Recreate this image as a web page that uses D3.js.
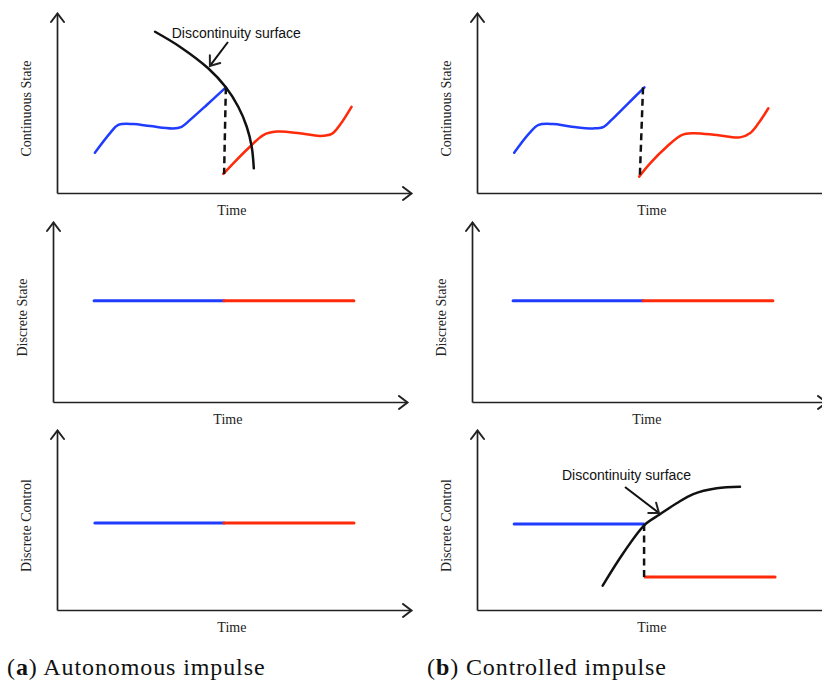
<!DOCTYPE html>
<html>
<head>
<meta charset="utf-8">
<script src="https://cdn.jsdelivr.net/npm/d3@7"></script>
<style>
  body { margin: 0; background: #fff; }
  svg { display: block; }
</style>
</head>
<body>
<div id="fig"></div>
<script>
// values in panel units: time 0..100 along x, state 0..100 along y
var contBlueA = [[10.7,22.4],[15.0,33.3],[17.3,37.8],[21.5,38.3],[26.3,37.2],[32.8,35.9],[35.2,36.8],[37.6,40.6],[42.3,48.9],[47.7,58.7]];
var contRedA  = [[47.0,10.6],[49.8,16.5],[54.5,25.7],[58.3,32.2],[62.1,34.1],[68.6,33.2],[74.3,31.7],[77.6,32.8],[79.9,37.8],[83.2,47.9]];
var jumpA     = [[47.7,58.7],[47.2,10.6]];
var surfaceA  = [[27.7,89.6],[34.7,81.3],[42.7,69.3],[47.7,58.7],[51.2,47.9],[53.6,36.8],[55.0,25.7],[55.6,13.7]];
var pointerA  = [[48.3,83.9],[43.2,70.6]];

var contBlueB = [[10.5,22.4],[14.8,33.3],[17.4,37.8],[21.5,38.3],[26.3,37.0],[33.0,35.9],[35.8,36.8],[38.0,40.6],[42.3,49.0],[47.3,58.7]];
var contRedB  = [[45.8,9.1],[48.9,16.5],[53.6,25.7],[57.8,32.2],[61.1,33.2],[67.7,32.2],[74.3,30.9],[77.1,33.2],[79.5,38.7],[82.3,47.1]];
var jumpB     = [[46.9,58.7],[46.0,9.1]];

var discStateBlue = [[11.6,56.3],[48.3,56.3]];
var discStateRed  = [[48.3,56.3],[85.0,56.3]];

var ctrlBlueA = [[10.7,48.3],[47.2,48.3]];
var ctrlRedA  = [[47.2,48.3],[83.9,48.3]];

var ctrlBlueB = [[10.5,47.8],[47.2,47.8]];
var ctrlRedB  = [[47.5,18.3],[84.2,18.3]];
var ctrlJumpB = [[47.2,47.8],[47.2,18.3]];
var surfaceB  = [[35.5,13.5],[41.3,31.5],[47.3,47.2],[51.7,53.2],[56.4,59.3],[61.1,64.4],[67.7,67.6],[74.3,68.5]];
var pointerB  = [[41.8,68.3],[51.4,53.9]];

var yLabels = ["Continuous State", "Discrete State", "Discrete Control"];
var xLabel = "Time";
var surfaceLabel = "Discontinuity surface";

var blue = "#1f3cff", red = "#ff2a0a", ink = "#111";

var svg = d3.select("#fig").append("svg")
  .attr("width", 822)
  .attr("height", 682);

var defs = svg.append("defs");
defs.append("marker")
  .attr("id", "head")
  .attr("viewBox", "-11 -8 13 16")
  .attr("refX", 0).attr("refY", 0)
  .attr("markerWidth", 13).attr("markerHeight", 16)
  .attr("markerUnits", "userSpaceOnUse")
  .attr("orient", "auto")
  .append("path")
  .attr("d", "M-8.5,-6.5L0,0L-8.5,6.5")
  .attr("fill", "none")
  .attr("stroke", "#222")
  .attr("stroke-width", 2)
  .attr("stroke-linecap", "round");

var panels = [
  {left: 57,  bottom: 193, row: 0, series: [
    {d: contBlueA, c: blue, curve: true}, {d: contRedA, c: red, curve: true},
    {d: jumpA, c: ink, dash: true}, {d: surfaceA, c: ink, curve: true}],
    pointer: pointerA, label: [32.4, 85.9]},
  {left: 477, bottom: 193, row: 0, series: [
    {d: contBlueB, c: blue, curve: true}, {d: contRedB, c: red, curve: true},
    {d: jumpB, c: ink, dash: true}]},
  {left: 53,  bottom: 402, row: 1, series: [
    {d: discStateBlue, c: blue, w: 3}, {d: discStateRed, c: red, w: 3}]},
  {left: 472, bottom: 402, row: 1, series: [
    {d: discStateBlue, c: blue, w: 3}, {d: discStateRed, c: red, w: 3}]},
  {left: 57,  bottom: 610, row: 2, series: [
    {d: ctrlBlueA, c: blue, w: 3}, {d: ctrlRedA, c: red, w: 3}]},
  {left: 477, bottom: 610, row: 2, series: [
    {d: ctrlBlueB, c: blue, w: 3}, {d: ctrlRedB, c: red, w: 3},
    {d: ctrlJumpB, c: ink, dash: true}, {d: surfaceB, c: ink, curve: true}],
    pointer: pointerB, label: [24, 72.2]}
];

panels.forEach(function(p) {
  var x = d3.scaleLinear().domain([0, 100]).range([p.left, p.left + 354]);
  var y = d3.scaleLinear().domain([0, 100]).range([p.bottom, p.bottom - 180]);
  var g = svg.append("g");

  var ax = g.append("g")
    .attr("transform", "translate(0," + p.bottom + ")")
    .call(d3.axisBottom(x).tickValues([]).tickSizeOuter(0));
  var ay = g.append("g")
    .attr("transform", "translate(" + p.left + ",0)")
    .call(d3.axisLeft(y).tickValues([]).tickSizeOuter(0));
  g.selectAll(".domain")
    .attr("stroke", "#222")
    .attr("stroke-width", 1.7)
    .attr("marker-end", "url(#head)");

  p.series.forEach(function(s) {
    var line = d3.line()
      .x(function(d) { return x(d[0]); })
      .y(function(d) { return y(d[1]); })
      .curve(s.curve ? d3.curveCatmullRom.alpha(0.5) : d3.curveLinear);
    g.append("path")
      .attr("d", line(s.d))
      .attr("fill", "none")
      .attr("stroke", s.c)
      .attr("stroke-width", s.w || 2.5)
      .attr("stroke-dasharray", s.dash ? "7,4.5" : null)
      .attr("stroke-linecap", s.dash ? "butt" : "round");
  });

  if (p.pointer) {
    g.append("line")
      .attr("x1", x(p.pointer[0][0])).attr("y1", y(p.pointer[0][1]))
      .attr("x2", x(p.pointer[1][0])).attr("y2", y(p.pointer[1][1]))
      .attr("stroke", ink)
      .attr("stroke-width", 2)
      .attr("marker-end", "url(#head)");
    g.append("text")
      .attr("x", x(p.label[0]))
      .attr("y", y(p.label[1]))
      .attr("font-family", "Liberation Sans, Arial, sans-serif")
      .attr("font-size", 14)
      .attr("fill", ink)
      .text(surfaceLabel);
  }

  g.append("text")
    .attr("transform", "translate(" + (p.left - 26) + "," + (y(50) + 5.5) + ") rotate(-90)")
    .attr("text-anchor", "middle")
    .attr("font-family", "Liberation Serif, Times New Roman, serif")
    .attr("font-size", 14)
    .attr("fill", "#222")
    .text(yLabels[p.row]);

  g.append("text")
    .attr("x", x(49.4))
    .attr("y", p.bottom + 22)
    .attr("text-anchor", "middle")
    .attr("font-family", "Liberation Serif, Times New Roman, serif")
    .attr("font-size", 14)
    .attr("fill", "#222")
    .text(xLabel);
});

var captions = [["a", " Autonomous impulse", 7], ["b", " Controlled impulse", 427]];
captions.forEach(function(c) {
  var t = svg.append("text")
    .attr("x", c[2])
    .attr("y", 675)
    .attr("font-family", "Liberation Serif, Times New Roman, serif")
    .attr("font-size", 24)
    .attr("letter-spacing", 0.9)
    .attr("fill", "#111");
  t.append("tspan").text("(");
  t.append("tspan").attr("font-weight", "bold").text(c[0]);
  t.append("tspan").text(")" + c[1]);
});
</script>
</body>
</html>
